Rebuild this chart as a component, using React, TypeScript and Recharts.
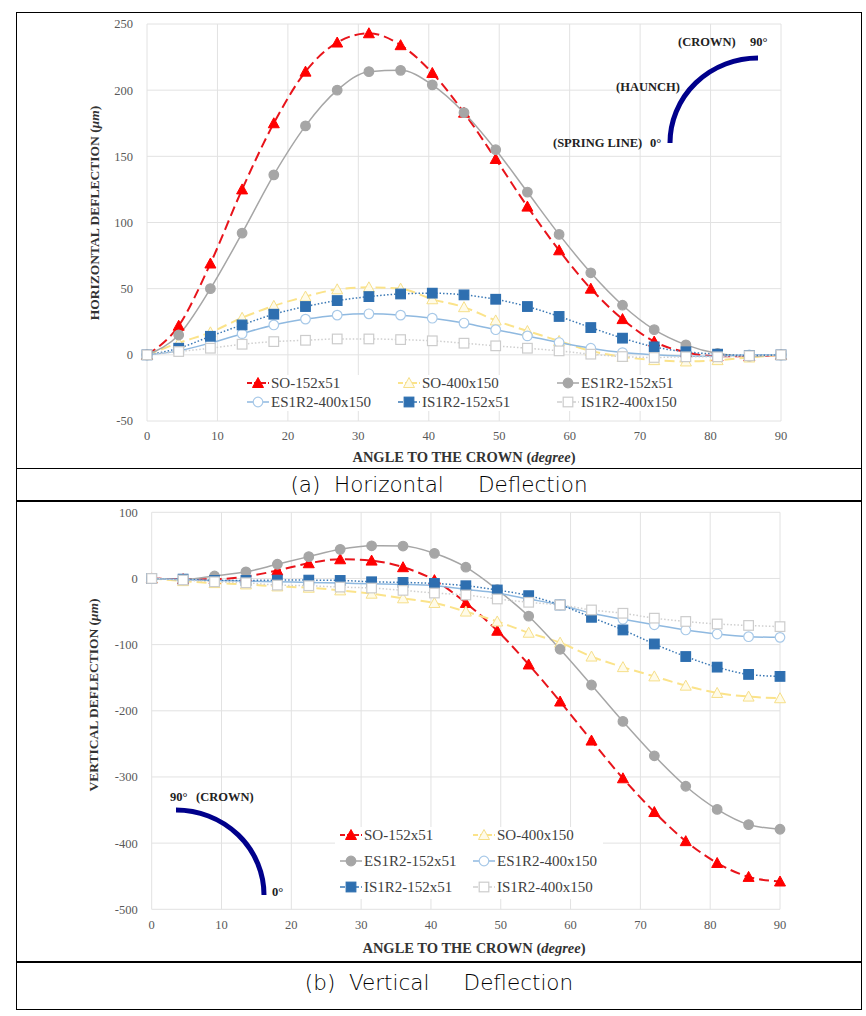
import React from "react";
import { LineChart, Line, XAxis, YAxis, CartesianGrid, Legend, Label } from "recharts";

// angle to the crown (degree)
const angles = [0, 4.5, 9, 13.5, 18, 22.5, 27, 31.5, 36, 40.5, 45, 49.5, 54, 58.5, 63, 67.5, 72, 76.5, 81, 85.5, 90];
const xTicks = [0, 10, 20, 30, 40, 50, 60, 70, 80, 90];

// (a) horizontal deflection (um)
const hSO152 = [0, 22, 69, 125, 175, 214, 236, 243, 234, 213, 183, 148, 112, 79, 50, 27, 10, 2, -1, -1, 0];
const hSO400 = [0, 9, 17, 28, 37, 44, 49.5, 51, 50, 42, 36, 26, 18, 10.5, 3, -1.5, -4, -5, -4, -2, 0];
const hES152 = [0, 15, 50, 92, 136, 173, 200, 214, 215, 204, 183, 155, 123, 91, 62, 37.5, 19, 7.5, 1, -1, 0];
const hES400 = [0, 3, 9, 16, 22.6, 27, 30, 31, 30, 27.7, 24, 19, 14.3, 9.3, 5, 1.7, 0, -1, -1, 0, 0];
const hIS152 = [0, 5, 14, 22.6, 30.7, 36.5, 41, 44, 46, 46.6, 45.3, 42, 36.5, 29, 20.6, 12.6, 6, 2.3, 0.5, -0.5, 0];
const hIS400 = [0, 2.5, 5, 8, 10, 11, 12, 12, 11.5, 10.6, 8.8, 6.8, 5, 3, 0.5, -1.3, -2, -1.5, -1.5, -0.7, 0];
const hTicks = [-50, 0, 50, 100, 150, 200, 250];

// (b) vertical deflection (um)
const vSO152 = [0, -1, -1, 3, 12, 23, 29, 27, 17, -2.5, -37, -79, -130, -186, -245, -302, -353, -397, -430, -451, -458];
const vSO400 = [0, -4, -7, -9, -12, -14, -18, -23, -30, -37, -50, -65, -82, -97, -118, -134, -148, -162, -173, -178.5, -181];
const vES152 = [0, -1.5, 3.8, 10, 21.5, 33, 44, 49.4, 49, 38, 17, -17, -57, -107, -161, -216, -268, -314, -349, -372, -379];
const vES400 = [0, -2, -3, -4, -5, -6, -7, -8, -9, -11, -16.5, -22, -31, -40, -52.6, -61.7, -70, -77.8, -84, -88, -89];
const vIS152 = [0, -1, -3, -3, -2.5, -2.5, -3, -5, -6, -7.5, -11, -17.4, -26, -40, -58.7, -77.8, -99, -118, -134, -145, -148];
const vIS400 = [0, -2.3, -5, -6.5, -10, -11, -13, -14.5, -18, -22, -25, -31, -36, -40, -47.6, -52.6, -60, -65, -68.8, -71, -72.8];
const vTicks = [-500, -400, -300, -200, -100, 0, 100];

const names = ["SO-152x51", "SO-400x150", "ES1R2-152x51", "ES1R2-400x150", "IS1R2-152x51", "IS1R2-400x150"];

const SERIES = [
  { key: "s0", stroke: "#e8141b", width: 2, dash: "10 5", shape: "tri", fill: "#ff0000", ms: "#ff0000" },
  { key: "s1", stroke: "#fbe38a", width: 2, dash: "10 5", shape: "tri", fill: "#fffbe8", ms: "#f6df8a" },
  { key: "s2", stroke: "#a6a6a6", width: 1.5, dash: undefined, shape: "circle", fill: "#a6a6a6", ms: "#a6a6a6" },
  { key: "s3", stroke: "#8fb9e0", width: 1.5, dash: undefined, shape: "circle", fill: "#ffffff", ms: "#a8c9e8" },
  { key: "s4", stroke: "#3a78b5", width: 1.5, dash: "1.5 2", shape: "square", fill: "#2e6fb0", ms: "#2e6fb0" },
  { key: "s5", stroke: "#cfcfcf", width: 1.5, dash: "1.5 2", shape: "square", fill: "#ffffff", ms: "#cccccc" },
];

const hData = angles.map((a, i) => ({
  angle: a, s0: hSO152[i], s1: hSO400[i], s2: hES152[i], s3: hES400[i], s4: hIS152[i], s5: hIS400[i],
}));
const vData = angles.map((a, i) => ({
  angle: a, s0: vSO152[i], s1: vSO400[i], s2: vES152[i], s3: vES400[i], s4: vIS152[i], s5: vIS400[i],
}));

const SERIF = "Liberation Serif, DejaVu Serif, serif";

function Marker({ shape, cx, cy, fill, stroke }: any) {
  if (cx == null || cy == null) return null;
  if (shape === "tri") {
    return <polygon points={`${cx},${cy - 5.5} ${cx - 5.5},${cy + 4.5} ${cx + 5.5},${cy + 4.5}`} fill={fill} stroke={stroke} strokeWidth={1} />;
  }
  if (shape === "circle") {
    return <circle cx={cx} cy={cy} r={4.8} fill={fill} stroke={stroke} strokeWidth={1.2} />;
  }
  return <rect x={cx - 4.8} y={cy - 4.8} width={9.6} height={9.6} fill={fill} stroke={stroke} strokeWidth={1.2} />;
}

const legendContent = (colX: number[], rowTop: number[], cols: number) => () => (
  <div style={{ position: "relative", width: "100%", height: "100%", fontFamily: SERIF, fontSize: 15, color: "#404040" }}>
    {SERIES.map((s, i) => {
      const r = Math.floor(i / cols);
      const c = i % cols;
      return (
        <div key={s.key} style={{ position: "absolute", left: colX[c], top: rowTop[r], display: "flex", alignItems: "center", whiteSpace: "nowrap", height: 16 }}>
          <svg width={22} height={14} style={{ marginRight: 2 }}>
            <line x1={0} y1={7} x2={22} y2={7} stroke={s.stroke} strokeWidth={s.width} strokeDasharray={s.dash ? "5 2" : undefined} />
            <Marker shape={s.shape} cx={11} cy={7} fill={s.fill} stroke={s.ms} />
          </svg>
          <span>{names[i]}</span>
        </div>
      );
    })}
  </div>
);

const yTitle = (text: string, cx: number, cy: number) => () => (
  <text x={cx} y={cy} transform={`rotate(-90 ${cx} ${cy})`} textAnchor="middle" dominantBaseline="central" fontFamily={SERIF} fontWeight="bold" fontSize={13.5} fill="#333">
    {text} (<tspan fontStyle="italic">μm</tspan>)
  </text>
);

const xTitle = (cx: number, cy: number) => () => (
  <text x={cx} y={cy} textAnchor="middle" dominantBaseline="central" fontFamily={SERIF} fontWeight="bold" fontSize={14.5} fill="#333">
    ANGLE TO THE CROWN (<tspan fontStyle="italic">degree</tspan>)
  </text>
);

function renderLines() {
  return SERIES.map((s) => (
    <Line
      key={s.key}
      type="monotone"
      dataKey={s.key}
      stroke={s.stroke}
      strokeWidth={s.width}
      strokeDasharray={s.dash}
      isAnimationActive={false}
      dot={(p: any) => <Marker key={`${s.key}-${p.index}`} shape={s.shape} cx={p.cx} cy={p.cy} fill={s.fill} stroke={s.ms} />}
      activeDot={false}
    />
  ));
}

const tickStyle = { fill: "#595959", fontSize: 12.5, fontFamily: SERIF };
const annot = { fontFamily: SERIF, fontWeight: "bold" as const, fontSize: 12.5, fill: "#222" };
const captionStyle = {
  position: "absolute" as const, left: 16, width: 846, height: 30, lineHeight: "30px", textAlign: "center" as const,
  fontFamily: "DejaVu Sans, sans-serif", fontWeight: 200, fontSize: 21.5, whiteSpace: "pre" as const, color: "#000",
};

export default function App() {
  return (
    <div style={{ position: "absolute", left: 0, top: 0, width: 866, height: 1016, background: "#fff" }}>
      {/* (a) horizontal */}
      <div style={{ position: "absolute", left: 0, top: 0 }}>
        <LineChart width={866} height={470} data={hData} margin={{ top: 24, right: 85, bottom: 24, left: 87 }}>
          <CartesianGrid stroke="#e2e2e2" strokeWidth={1} />
          <XAxis dataKey="angle" type="number" domain={[0, 90]} ticks={xTicks} axisLine={false} tickLine={false} tick={tickStyle} tickMargin={4} height={25} interval={0}>
            <Label content={xTitle(464, 457)} />
          </XAxis>
          <YAxis type="number" domain={[-50, 250]} ticks={hTicks} axisLine={false} tickLine={false} tick={tickStyle} tickMargin={8} width={60} interval={0}>
            <Label content={yTitle("HORIZONTAL DEFLECTION", 94, 213)} />
          </YAxis>
          <Legend layout="horizontal" verticalAlign="middle" align="center" content={legendContent([4, 155, 314], [0, 19], 3)} wrapperStyle={{ left: 243, top: 375, width: 440, height: 36, background: "#fff" }} />
          {renderLines()}
        </LineChart>
      </div>
      <svg style={{ position: "absolute", left: 0, top: 0 }} width={866} height={470}>
        <path d="M 670 143 A 88 85 0 0 1 758 58" fill="none" stroke="#00008b" strokeWidth={5} />
        <text x={678} y={42} dominantBaseline="central" {...annot}>(CROWN)</text>
        <text x={750} y={42} dominantBaseline="central" {...annot}>90°</text>
        <text x={680} y={87} textAnchor="end" dominantBaseline="central" {...annot}>(HAUNCH)</text>
        <text x={553} y={143} dominantBaseline="central" {...annot}>(SPRING LINE)</text>
        <text x={650} y={143} dominantBaseline="central" {...annot}>0°</text>
      </svg>

      {/* (b) vertical */}
      <div style={{ position: "absolute", left: 0, top: 490 }}>
        <LineChart width={866} height={470} data={vData} margin={{ top: 22.3, right: 86, bottom: 25.7, left: 91.7 }}>
          <CartesianGrid stroke="#e2e2e2" strokeWidth={1} />
          <XAxis dataKey="angle" type="number" domain={[0, 90]} ticks={xTicks} axisLine={false} tickLine={false} tick={tickStyle} tickMargin={5} height={25} interval={0}>
            <Label content={xTitle(474, 458)} />
          </XAxis>
          <YAxis type="number" domain={[-500, 100]} ticks={vTicks} axisLine={false} tickLine={false} tick={tickStyle} tickMargin={8} width={60} interval={0}>
            <Label content={yTitle("VERTICAL DEFLECTION", 93, 205)} />
          </YAxis>
          <Legend layout="horizontal" verticalAlign="middle" align="center" content={legendContent([5, 138], [0, 26, 52], 2)} wrapperStyle={{ left: 335, top: 337, width: 268, height: 72, background: "#fff" }} />
          {renderLines()}
        </LineChart>
      </div>
      <svg style={{ position: "absolute", left: 0, top: 490 }} width={866} height={470}>
        <path d="M 176 320 A 88 85 0 0 1 264 405" fill="none" stroke="#00008b" strokeWidth={5} />
        <text x={170} y={307} dominantBaseline="central" {...annot}>90°</text>
        <text x={196} y={307} dominantBaseline="central" {...annot}>(CROWN)</text>
        <text x={272} y={402} dominantBaseline="central" {...annot}>0°</text>
      </svg>

      {/* table frame and captions */}
      <div style={{ position: "absolute", left: 16, top: 12, width: 846, height: 998, border: "1.5px solid #000", boxSizing: "border-box" }} />
      <div style={{ position: "absolute", left: 16, top: 467.5, width: 846, height: 1.5, background: "#000" }} />
      <div style={{ position: "absolute", left: 16, top: 500, width: 846, height: 1.5, background: "#000" }} />
      <div style={{ position: "absolute", left: 16, top: 961, width: 846, height: 1.5, background: "#000" }} />
      <div style={{ ...captionStyle, top: 470 }}>(a)  Horizontal     Deflection</div>
      <div style={{ ...captionStyle, top: 968 }}>(b)  Vertical     Deflection</div>
    </div>
  );
}
